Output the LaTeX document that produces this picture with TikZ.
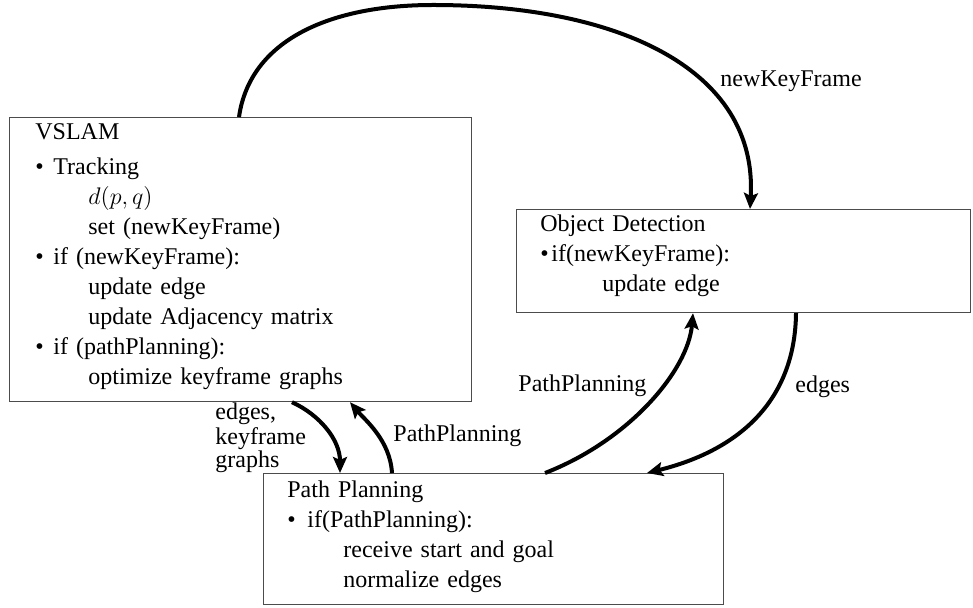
\documentclass[tikz,border=0pt]{standalone}
\usepackage{fontspec}
\setmainfont{Liberation Serif}
\usetikzlibrary{arrows.meta}
\newcommand{\itm}[2][9pt]{\makebox[#1][l]{\textbullet}#2}

\begin{document}
\begin{tikzpicture}[x=0.5pt, y=-0.5pt,
    box/.style={draw=black!70, line width=0.6pt, anchor=north west, inner sep=0pt},
    txt/.style={anchor=base west, align=left, text width=220pt, inner sep=0pt, font=\fontsize{12}{15}\selectfont},
    lbl/.style={anchor=base west, inner sep=0pt, font=\fontsize{12}{15}\selectfont},
    flow/.style={line width=2pt, -{Stealth[length=8pt, width=7pt, inset=1.5pt]}}]
    \useasboundingbox (0,0) rectangle (973,608);

    \node[box, minimum width=231pt, minimum height=142pt] (vslam) at (9,117) {};
    \node[box, minimum width=227pt, minimum height=51.5pt] (od) at (516,209) {};
    \node[box, minimum width=230pt, minimum height=65.5pt] (pp) at (263,473) {};

    \node[txt] (vslamtext) at (35,140) {VSLAM\\[2.5pt]
        \itm{Tracking}\\
        \hspace*{26.5pt}$d(p,q)$\\
        \hspace*{26.5pt}set (newKeyFrame)\\
        \itm{if (newKeyFrame):}\\
        \hspace*{26.5pt}update edge\\
        \hspace*{26.5pt}update Adjacency matrix\\
        \itm{if (pathPlanning):}\\
        \hspace*{26.5pt}optimize keyframe graphs};
    \node[txt] (odtext) at (540,232) {Object Detection\\
        \itm[5.5pt]{if(newKeyFrame):}\\
        \hspace*{31pt}update edge};
    \node[txt] (pptext) at (287,497) {Path Planning\\
        \itm[10pt]{if(PathPlanning):}\\
        \hspace*{28pt}receive start and goal\\
        \hspace*{28pt}normalize edges};

    \coordinate (peak) at (433,5);
    \draw[flow] ([xshift=115pt]vslam.north west) .. controls (250,40) and (330,5) .. (peak)
        .. controls (620,5) and (758,70) .. ([xshift=117pt]od.north west);
    \draw[flow] ([xshift=141.5pt]vslam.south west) .. controls (320,415) and (340,440) .. ([xshift=38.5pt]pp.north west);
    \draw[flow] ([xshift=64.5pt]pp.north west) .. controls (390,440) and (365,420) .. ([xshift=170.5pt]vslam.south west);
    \draw[flow] ([xshift=141pt]pp.north west) .. controls (630,440) and (688,370) .. ([xshift=88.5pt]od.south west);
    \draw[flow] ([xshift=140pt]od.south west) .. controls (795,400) and (740,450) .. ([xshift=192pt]pp.north west);

    \node[lbl] (newkf) at (720,87) {newKeyFrame};
    \node[lbl] (edgesod) at (795,393) {edges};
    \node[lbl] (ppod) at (518,392) {PathPlanning};
    \node[lbl] (ppvslam) at (393,442) {PathPlanning};
    \node[lbl, align=left, text width=50pt, font=\fontsize{12}{10.5}\selectfont] (edgesvslam) at (215,420) {edges,\\keyframe\\graphs};
\end{tikzpicture}
\end{document}
